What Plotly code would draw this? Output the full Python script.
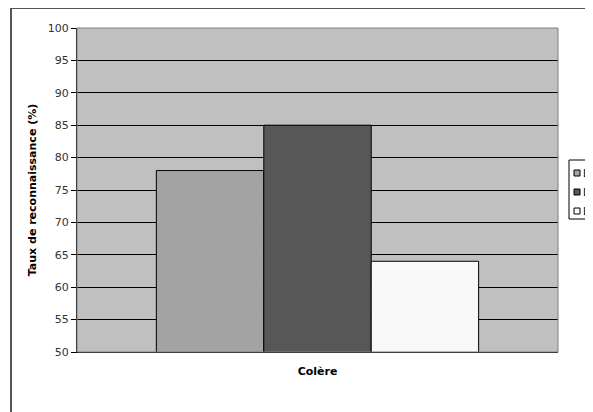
import plotly.graph_objects as go

categories = ["Colère"]
series_names = ["Locuteur 1", "Locuteur 2", "Locuteur 3"]
series_values = [[78], [85], [64]]
series_colors = ["#A3A3A3", "#575757", "#F8F8F8"]
y_ticks = [50, 55, 60, 65, 70, 75, 80, 85, 90, 95, 100]

fig = go.Figure()
for name, vals, col in zip(series_names, series_values, series_colors):
    fig.add_trace(go.Bar(
        x=categories, y=vals, name=name,
        marker=dict(color=col, line=dict(color="#000000", width=1)),
    ))

font = "DejaVu Sans, Arial, sans-serif"

# plot area spans 481 x 324 px; helpers convert page pixels to paper coords
PX0, PY0, PW, PH = 77, 352, 481, 324
def px(x):
    return (x - PX0) / PW
def py(y):
    return (PY0 - y) / PH

shapes = [
    # outer chart frame
    dict(type="rect", xref="paper", yref="paper",
         x0=px(11), x1=px(700), y0=py(500), y1=py(8),
         line=dict(color="#555", width=2), fillcolor="rgba(0,0,0,0)", layer="below"),
    # plot area border (grey top/right)
    dict(type="rect", xref="paper", yref="paper",
         x0=0, x1=1, y0=0, y1=1,
         line=dict(color="#808080", width=1), fillcolor="rgba(0,0,0,0)", layer="above"),
    # legend box
    dict(type="rect", xref="paper", yref="paper",
         x0=px(569), x1=px(640), y0=py(219), y1=py(160),
         line=dict(color="#000", width=1), fillcolor="rgba(0,0,0,0)", layer="below"),
]
annotations = []
legend_rows = [173, 192, 211]
for name, col, yy in zip(series_names, series_colors, legend_rows):
    shapes.append(dict(type="rect", xref="paper", yref="paper",
                       x0=px(574), x1=px(580), y0=py(yy + 3), y1=py(yy - 3),
                       line=dict(color="#000", width=1), fillcolor=col))
    annotations.append(dict(xref="paper", yref="paper", x=px(582), y=py(yy),
                            xanchor="left", yanchor="middle", showarrow=False,
                            borderpad=0,
                            text=name, font=dict(size=10, color="#000", family=font)))

fig.update_layout(
    width=593, height=412,
    margin=dict(l=69, r=43, t=20, b=68, autoexpand=False),
    paper_bgcolor="white",
    plot_bgcolor="#C0C0C0",
    barmode="group", bargap=0.33, bargroupgap=0,
    font=dict(family=font, size=11, color="#222"),
    showlegend=False,
    xaxis=dict(
        showgrid=False, showline=True, linecolor="#000", linewidth=1,
        ticks="", ticklabelstandoff=9,
        tickfont=dict(size=11, color="#000", family=font, weight="bold"),
    ),
    yaxis=dict(
        range=[50, 100], tickvals=y_ticks, ticktext=[str(v) for v in y_ticks],
        showgrid=True, gridcolor="#000", gridwidth=1,
        showline=True, linecolor="#000", linewidth=1,
        ticks="outside", ticklen=5, tickcolor="#000",
        tickfont=dict(size=11, color="#333", family=font),
        title=dict(text="Taux de reconnaissance (%)", standoff=8,
                   font=dict(size=11, color="#000", family=font, weight="bold")),
        zeroline=False,
    ),
    shapes=shapes,
    annotations=annotations,
)
fig.write_html("out.html")
